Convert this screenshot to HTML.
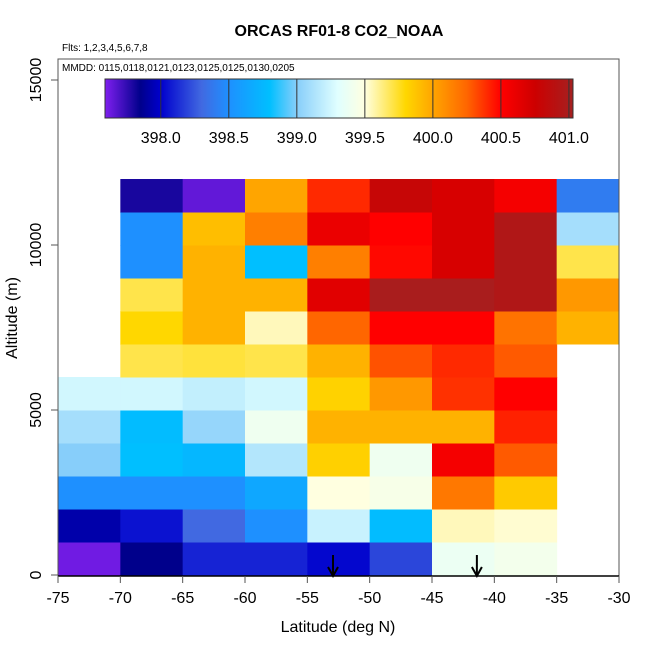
<!DOCTYPE html>
<html><head><meta charset="utf-8"><style>
body{margin:0;background:#fff}
svg text{font-family:"Liberation Sans",sans-serif}
</style></head><body>
<svg id="chart" width="650" height="650" xmlns="http://www.w3.org/2000/svg"></svg>
<script>
// data
const latEdges = [-75,-70,-65,-60,-55,-50,-45,-40,-35,-30];
const altEdges = [0,1000,2000,3000,4000,5000,6000,7000,8000,9000,10000,11000,12000];
// rows bottom (0-1000) to top (11000-12000); null = no data
const row0  = [397.62,397.85,398.10,398.10,398.02,398.20,399.38,399.42,null];
const row1  = [397.92,398.05,398.30,398.50,399.22,398.78,399.55,399.52,null];
const row2  = [398.50,398.50,398.50,398.65,399.50,399.45,400.18,399.85,null];
const row3  = [399.00,398.80,398.75,399.15,399.83,399.40,400.55,400.28,null];
const row4  = [399.10,398.78,399.05,399.40,399.95,399.95,399.95,400.42,null];
const row5  = [399.25,399.25,399.20,399.25,399.82,400.05,400.38,400.50,null];
const row6  = [null,399.70,399.72,399.70,399.95,400.30,400.40,400.28,null];
const row7  = [null,399.80,399.95,399.55,400.25,400.50,400.50,400.20,399.95];
const row8  = [null,399.70,399.95,399.95,400.65,401.00,401.00,400.95,400.05];
const row9  = [null,398.50,399.95,398.80,400.15,400.48,400.70,400.95,399.70];
const row10 = [null,398.50,399.90,400.15,400.60,400.50,400.70,400.95,399.10];
const row11 = [null,397.80,397.65,400.00,400.40,400.80,400.70,400.55,398.40];
const rows = [row0,row1,row2,row3,row4,row5,row6,row7,row8,row9,row10,row11];
const xTicks = [-75,-70,-65,-60,-55,-50,-45,-40,-35,-30];
const yTicks = [0,5000,10000,15000];
const cbTicks = [398.0,398.5,399.0,399.5,400.0,400.5,401.0];
const arrowLats = [-52.94,-41.4];

const cmapVals = [397.59,397.85,398.0,398.3,398.5,398.8,399.0,399.3,399.5,399.8,400.0,400.25,400.5,400.75,401.03];
const cmapCols = ['#7f1fef','#00008b','#0000cd','#4169e1','#1e90ff','#00bfff','#87cefa','#e0ffff','#ffffe0','#ffd700','#ffa500','#ff6600','#ff0000','#cd0000','#a52020'];

const NS='http://www.w3.org/2000/svg';
const svg=document.getElementById('chart');
const X0=58,X1=619,Ytop=59,Ybot=576;
const xs=v=>X0+(v+75)*(X1-X0)/45;
const ys=v=>575-v*0.033;
function hex(c){return [1,3,5].map(i=>parseInt(c.substr(i,2),16));}
function cmap(v){
  if(v<=cmapVals[0])return cmapCols[0];
  for(let i=1;i<cmapVals.length;i++){
    if(v<=cmapVals[i]){
      const t=(v-cmapVals[i-1])/(cmapVals[i]-cmapVals[i-1]);
      const a=hex(cmapCols[i-1]),b=hex(cmapCols[i]);
      return 'rgb('+a.map((x,k)=>Math.round(x+(b[k]-x)*t)).join(',')+')';
    }
  }
  return cmapCols[cmapCols.length-1];
}
function el(tag,attrs,parent){const e=document.createElementNS(NS,tag);for(const k in attrs)e.setAttribute(k,attrs[k]);(parent||svg).appendChild(e);return e;}

// cells
const cellG=el('g',{});


rows.forEach((r,ri)=>r.forEach((v,ci)=>{
  if(v===null)return;
  const x=xs(latEdges[ci]),x2=xs(latEdges[ci+1]),y=ys(altEdges[ri+1]),y2=ys(altEdges[ri]);
  const c=el('rect',{x:x,y:y,width:x2-x+0.5,height:y2-y+0.5,fill:cmap(v)},cellG);
  
  
}));

// arrows
arrowLats.forEach(l=>{
  const g=el('g',{});
  
  
  const x=xs(l);
  el('line',{x1:x,y1:555,x2:x,y2:575,stroke:'#000','stroke-width':2},g);
  el('polyline',{points:(x-5)+',567 '+x+',576 '+(x+5)+',567',fill:'none',stroke:'#000','stroke-width':2},g);
});

// box
const box=el('rect',{x:X0,y:Ytop,width:X1-X0,height:Ybot-Ytop,fill:'none',stroke:'#555','stroke-width':1});


el('line',{x1:X0,y1:Ybot,x2:X1,y2:Ybot,stroke:'#000','stroke-width':1.5});

// x ticks
xTicks.forEach(t=>{
  el('line',{x1:xs(t),y1:Ybot,x2:xs(t),y2:Ybot+7,stroke:'#555'});
  const tx=el('text',{x:xs(t),y:603,'font-size':16,'text-anchor':'middle'});
  tx.textContent=t;
  
  
});
yTicks.forEach(t=>{
  el('line',{x1:X0,y1:ys(t),x2:X0-7,y2:ys(t),stroke:'#555'});
  const tx=el('text',{x:0,y:0,'font-size':16,'text-anchor':'middle',transform:'translate(41,'+ys(t)+') rotate(-90)'});
  tx.textContent=t;
  
  
});

// colorbar
const CB0=105,CB1=573,cbMin=397.59,cbMax=401.03;
const cbx=v=>CB0+(v-cbMin)*(CB1-CB0)/(cbMax-cbMin);
const defs=el('defs',{});
const grad=el('linearGradient',{id:'cbg',x1:0,x2:1,y1:0,y2:0},defs);
cmapVals.forEach((v,i)=>el('stop',{offset:(v-cbMin)/(cbMax-cbMin),'stop-color':cmapCols[i]},grad));
const cb=el('rect',{x:CB0,y:79,width:CB1-CB0,height:39,fill:'url(#cbg)',stroke:'#333','stroke-width':1});


cbTicks.forEach(t=>{
  el('line',{x1:cbx(t),y1:79,x2:cbx(t),y2:118,stroke:'#333','stroke-width':1});
  const tx=el('text',{x:cbx(t),y:143,'font-size':16,'text-anchor':'middle'});
  tx.textContent=t.toFixed(1);
  
  
});
</script>
<svg width="650" height="650" style="position:absolute;left:0;top:0" xmlns="http://www.w3.org/2000/svg">
<text x="339" y="36" font-size="16" font-weight="bold" text-anchor="middle" style="font-family:'Liberation Sans',sans-serif">ORCAS RF01-8 CO2_NOAA</text>
<text x="62" y="51" font-size="10" style="font-family:'Liberation Sans',sans-serif">Flts: 1,2,3,4,5,6,7,8</text>
<text x="62" y="71" font-size="10" style="font-family:'Liberation Sans',sans-serif">MMDD: 0115,0118,0121,0123,0125,0125,0130,0205</text>
<text x="338" y="632" font-size="16" text-anchor="middle" style="font-family:'Liberation Sans',sans-serif">Latitude (deg N)</text>
<text x="0" y="0" font-size="16" text-anchor="middle" transform="translate(17,318) rotate(-90)" style="font-family:'Liberation Sans',sans-serif">Altitude (m)</text>
</svg>
</body></html>
